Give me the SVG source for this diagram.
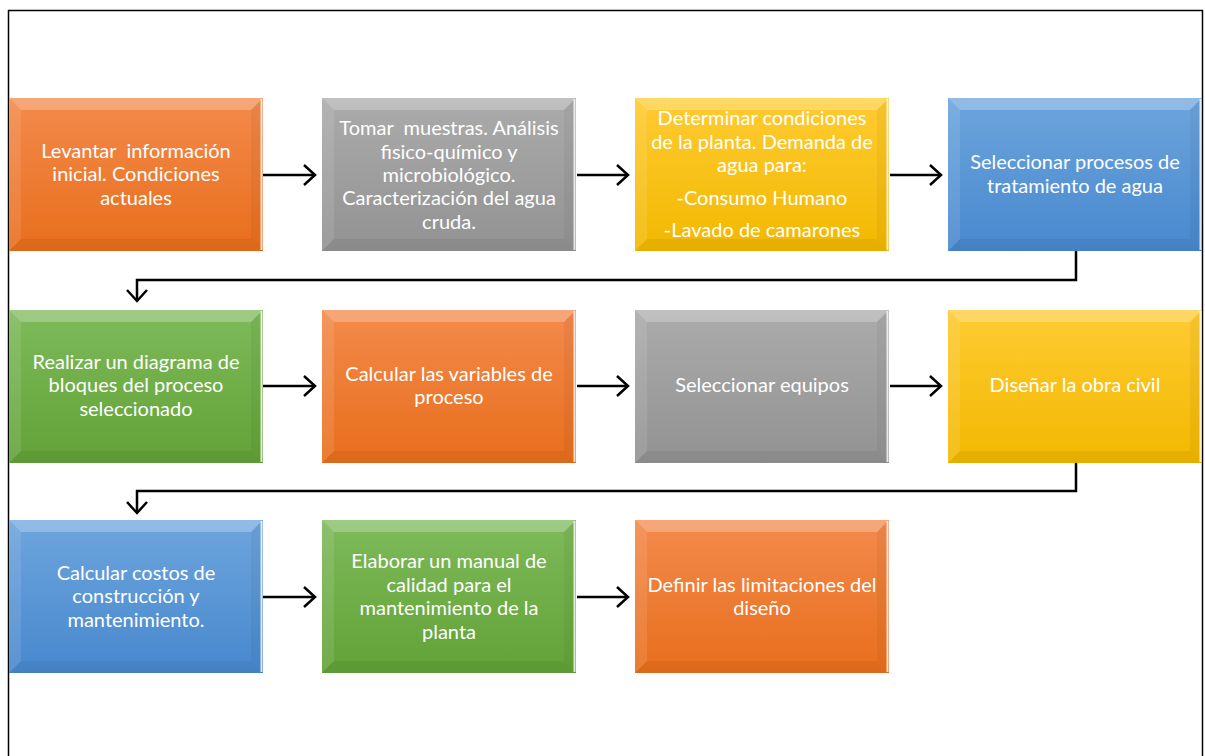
<svg xmlns="http://www.w3.org/2000/svg" xmlns:xlink="http://www.w3.org/1999/xlink" width="1205" height="756" viewBox="0 0 1205 756">
<style>
.t{font-family:Lato,"Open Sans","Liberation Sans",sans-serif;font-size:20px;fill:#ffffff;text-anchor:middle;white-space:pre}
.c{fill:none;stroke:#000;stroke-width:2.5}
</style>
<defs>
<linearGradient id="gO" x1="0" y1="0" x2="0" y2="1"><stop offset="0" stop-color="#F38A4C"/><stop offset="1" stop-color="#E86E1C"/></linearGradient>
<linearGradient id="gG" x1="0" y1="0" x2="0" y2="1"><stop offset="0" stop-color="#ABABAB"/><stop offset="1" stop-color="#929292"/></linearGradient>
<linearGradient id="gY" x1="0" y1="0" x2="0" y2="1"><stop offset="0" stop-color="#FFCB32"/><stop offset="1" stop-color="#F2B800"/></linearGradient>
<linearGradient id="gB" x1="0" y1="0" x2="0" y2="1"><stop offset="0" stop-color="#6DA5DD"/><stop offset="1" stop-color="#4888CE"/></linearGradient>
<linearGradient id="gN" x1="0" y1="0" x2="0" y2="1"><stop offset="0" stop-color="#7EBA5A"/><stop offset="1" stop-color="#62A237"/></linearGradient>
<g id="bevel">
<polygon points="0,0 254,0 242,12 12,12" fill="#ffffff" fill-opacity="0.25"/>
<polygon points="0,0 12,12 12,141 0,153" fill="#ffffff" fill-opacity="0.1"/>
<polygon points="254,0 254,153 242,141 242,12" fill="#000000" fill-opacity="0.04"/>
<polygon points="0,153 254,153 242,141 12,141" fill="#000000" fill-opacity="0.05"/>
<line x1="252.5" y1="1" x2="252.5" y2="152" stroke="#ffffff" stroke-opacity="0.8" stroke-width="2"/>
</g>
<marker id="ah" markerUnits="userSpaceOnUse" markerWidth="20" markerHeight="24" refX="13" refY="12" orient="auto">
<path d="M2,2 L13,12 L2,22" fill="none" stroke="#000" stroke-width="2.5"/>
</marker>
</defs>
<rect x="0" y="0" width="1205" height="756" fill="#ffffff"/>
<path d="M8.5,756 V10.5 H1202.5 V756" fill="none" stroke="#000" stroke-width="1.5"/>

<g id="connectors">
<line class="c" x1="263" y1="175" x2="315" y2="175" marker-end="url(#ah)"/>
<line class="c" x1="577" y1="175" x2="628" y2="175" marker-end="url(#ah)"/>
<line class="c" x1="890" y1="175" x2="941" y2="175" marker-end="url(#ah)"/>
<polyline class="c" points="1076,251 1076,280 137,280 137,301" marker-end="url(#ah)"/>
<line class="c" x1="263" y1="386" x2="315" y2="386" marker-end="url(#ah)"/>
<line class="c" x1="577" y1="386" x2="628" y2="386" marker-end="url(#ah)"/>
<line class="c" x1="890" y1="386" x2="941" y2="386" marker-end="url(#ah)"/>
<polyline class="c" points="1076,463 1076,491 137,491 137,513" marker-end="url(#ah)"/>
<line class="c" x1="263" y1="597" x2="315" y2="597" marker-end="url(#ah)"/>
<line class="c" x1="577" y1="597" x2="628" y2="597" marker-end="url(#ah)"/>
</g>

<g id="n1" transform="translate(9,98)">
<rect width="254" height="153" fill="url(#gO)"/><use xlink:href="#bevel"/>
<text class="t" xml:space="preserve"><tspan x="127" y="60">Levantar  información</tspan><tspan x="127" y="83">inicial. Condiciones</tspan><tspan x="127" y="107">actuales</tspan></text>
</g>
<g id="n2" transform="translate(322,98)">
<rect width="254" height="153" fill="url(#gG)"/><use xlink:href="#bevel"/>
<text class="t" xml:space="preserve"><tspan x="127" y="37">Tomar  muestras. Análisis</tspan><tspan x="127" y="61">fisico-químico y</tspan><tspan x="127" y="84">microbiológico.</tspan><tspan x="127" y="107">Caracterización del agua</tspan><tspan x="127" y="131">cruda.</tspan></text>
</g>
<g id="n3" transform="translate(635,98)">
<rect width="254" height="153" fill="url(#gY)"/><use xlink:href="#bevel"/>
<text class="t"><tspan x="127" y="27">Determinar condiciones</tspan><tspan x="127" y="51">de la planta. Demanda de</tspan><tspan x="127" y="74">agua para:</tspan><tspan x="127" y="107">-Consumo Humano</tspan><tspan x="127" y="139">-Lavado de camarones</tspan></text>
</g>
<g id="n4" transform="translate(948,98)">
<rect width="254" height="153" fill="url(#gB)"/><use xlink:href="#bevel"/>
<text class="t"><tspan x="127" y="71">Seleccionar procesos de</tspan><tspan x="127" y="95">tratamiento de agua</tspan></text>
</g>

<g id="n5" transform="translate(9,310)">
<rect width="254" height="153" fill="url(#gN)"/><use xlink:href="#bevel"/>
<text class="t"><tspan x="127" y="59">Realizar un diagrama de</tspan><tspan x="127" y="82">bloques del proceso</tspan><tspan x="127" y="106">seleccionado</tspan></text>
</g>
<g id="n6" transform="translate(322,310)">
<rect width="254" height="153" fill="url(#gO)"/><use xlink:href="#bevel"/>
<text class="t"><tspan x="127" y="71">Calcular las variables de</tspan><tspan x="127" y="94">proceso</tspan></text>
</g>
<g id="n7" transform="translate(635,310)">
<rect width="254" height="153" fill="url(#gG)"/><use xlink:href="#bevel"/>
<text class="t"><tspan x="127" y="82">Seleccionar equipos</tspan></text>
</g>
<g id="n8" transform="translate(948,310)">
<rect width="254" height="153" fill="url(#gY)"/><use xlink:href="#bevel"/>
<text class="t"><tspan x="127" y="82">Diseñar la obra civil</tspan></text>
</g>

<g id="n9" transform="translate(9,520)">
<rect width="254" height="153" fill="url(#gB)"/><use xlink:href="#bevel"/>
<text class="t"><tspan x="127" y="60">Calcular costos de</tspan><tspan x="127" y="83">construcción y</tspan><tspan x="127" y="107">mantenimiento.</tspan></text>
</g>
<g id="n10" transform="translate(322,520)">
<rect width="254" height="153" fill="url(#gN)"/><use xlink:href="#bevel"/>
<text class="t"><tspan x="127" y="48">Elaborar un manual de</tspan><tspan x="127" y="72">calidad para el</tspan><tspan x="127" y="95">mantenimiento de la</tspan><tspan x="127" y="119">planta</tspan></text>
</g>
<g id="n11" transform="translate(635,520)">
<rect width="254" height="153" fill="url(#gO)"/><use xlink:href="#bevel"/>
<text class="t"><tspan x="127" y="72">Definir las limitaciones del</tspan><tspan x="127" y="95">diseño</tspan></text>
</g>
</svg>
